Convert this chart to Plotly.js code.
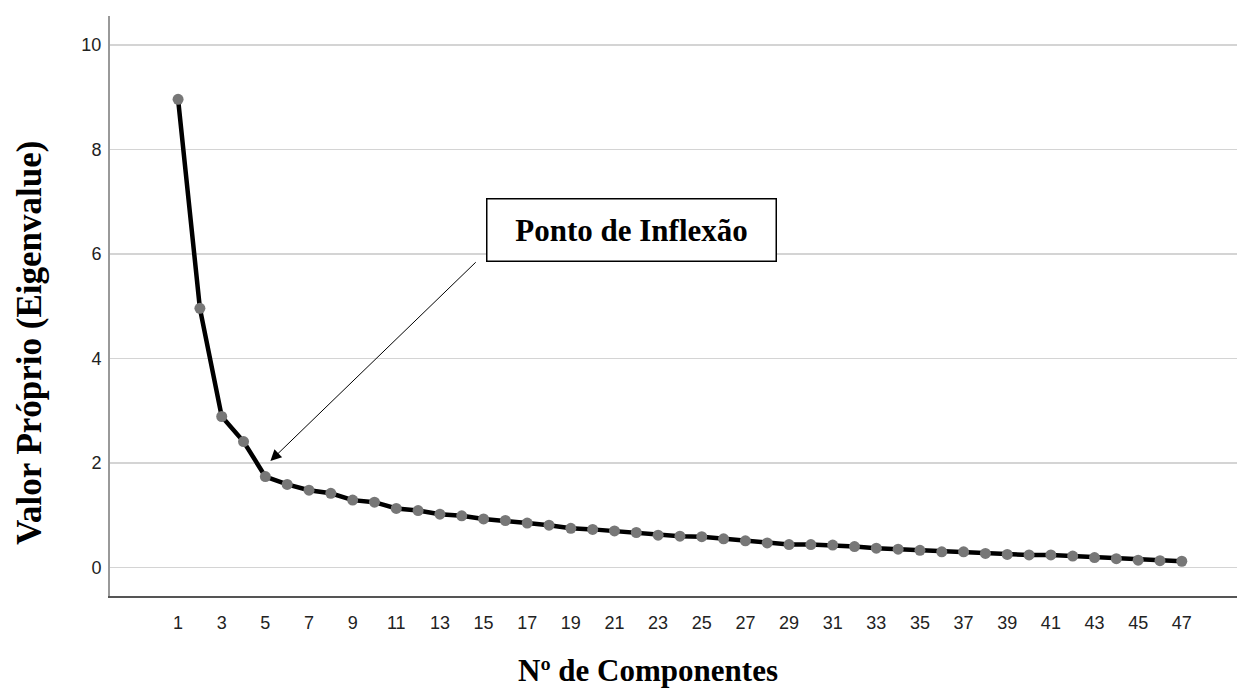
<!DOCTYPE html>
<html>
<head>
<meta charset="utf-8">
<script src="https://cdn.plot.ly/plotly-3.0.1.min.js"></script>
<style>html,body{margin:0;padding:0;background:#fff;}#chart{width:1237px;height:695px;}</style>
</head>
<body>
<div id="chart"></div>
<script>
const components = [];
for (let i = 1; i <= 47; i++) components.push(i);
const eigenvalues = [8.96, 4.96, 2.89, 2.41, 1.74, 1.59, 1.48, 1.42, 1.29, 1.25,
  1.13, 1.09, 1.02, 0.99, 0.93, 0.90, 0.85, 0.81, 0.75, 0.73,
  0.70, 0.67, 0.62, 0.60, 0.59, 0.55, 0.51, 0.47, 0.44, 0.44,
  0.43, 0.40, 0.37, 0.35, 0.33, 0.30, 0.30, 0.27, 0.25, 0.24,
  0.24, 0.22, 0.19, 0.17, 0.14, 0.13, 0.12];
const xTickVals = components.filter(c => c % 2 === 1);
const yTickVals = [0, 2, 4, 6, 8, 10];
const xTitle = "Nº de Componentes";
const yTitle = "Valor Próprio (Eigenvalue)";
const calloutText = "Ponto de Inflexão";
const calloutTip = [5.23, 2.04];
const calloutTail = [14.71, 5.87];

const trace = {
  x: components, y: eigenvalues, type: 'scatter', mode: 'lines+markers',
  line: {color: '#000', width: 4.5},
  marker: {color: '#777', size: 11},
  hoverinfo: 'x+y'
};

const layout = {
  width: 1237, height: 695,
  margin: {l: 110, r: 0, t: 16, b: 99, pad: 0},
  paper_bgcolor: '#fff', plot_bgcolor: '#fff',
  showlegend: false,
  xaxis: {
    range: [-2.12, 49.53], tickvals: xTickVals, ticktext: xTickVals.map(String),
    showgrid: false, zeroline: false, showline: true, linecolor: '#555', linewidth: 1.5,
    ticks: '', ticklabelstandoff: 10,
    tickfont: {family: 'Liberation Sans, Arial, sans-serif', size: 18, color: '#222'}
  },
  yaxis: {
    range: [-0.545, 10.555], tickvals: yTickVals,
    showgrid: true, gridcolor: '#d4d4d4', gridwidth: 1.5, zeroline: false,
    showline: true, linecolor: '#999', linewidth: 2,
    ticks: '', ticklabelstandoff: 3,
    tickfont: {family: 'Liberation Sans, Arial, sans-serif', size: 18, color: '#222'}
  },
  annotations: [
    {xref: 'paper', yref: 'paper', x: (29 - 110) / 1127, y: (596 - 343) / 580,
     text: yTitle, textangle: -90, showarrow: false, xanchor: 'center', yanchor: 'middle',
     font: {family: 'Liberation Serif, Times New Roman, serif', size: 35, color: '#000', weight: 'bold'}},
    {xref: 'paper', yref: 'paper', x: (648 - 110) / 1127, y: -(670 - 596) / 580,
     text: xTitle, showarrow: false, xanchor: 'center', yanchor: 'middle',
     font: {family: 'Liberation Serif, Times New Roman, serif', size: 31, color: '#000', weight: 'bold'}},
    {xref: 'x', yref: 'y', x: calloutTip[0], y: calloutTip[1], axref: 'x', ayref: 'y',
     ax: calloutTail[0], ay: calloutTail[1], text: '', showarrow: true,
     arrowhead: 2, arrowsize: 2.2, arrowwidth: 1, arrowcolor: '#000', standoff: 0, startstandoff: 0},
    {xref: 'x', yref: 'y', x: 21.76, y: 6.46, text: '<b>' + calloutText + '</b>', showarrow: false,
     xanchor: 'center', yanchor: 'middle', width: 286, height: 59,
     bordercolor: '#000', borderwidth: 1.5, bgcolor: '#fff', borderpad: 1,
     font: {family: 'Liberation Serif, Times New Roman, serif', size: 31, color: '#000'}}
  ]
};

Plotly.newPlot('chart', [trace], layout, {displayModeBar: false, staticPlot: true});
</script>
</body>
</html>
